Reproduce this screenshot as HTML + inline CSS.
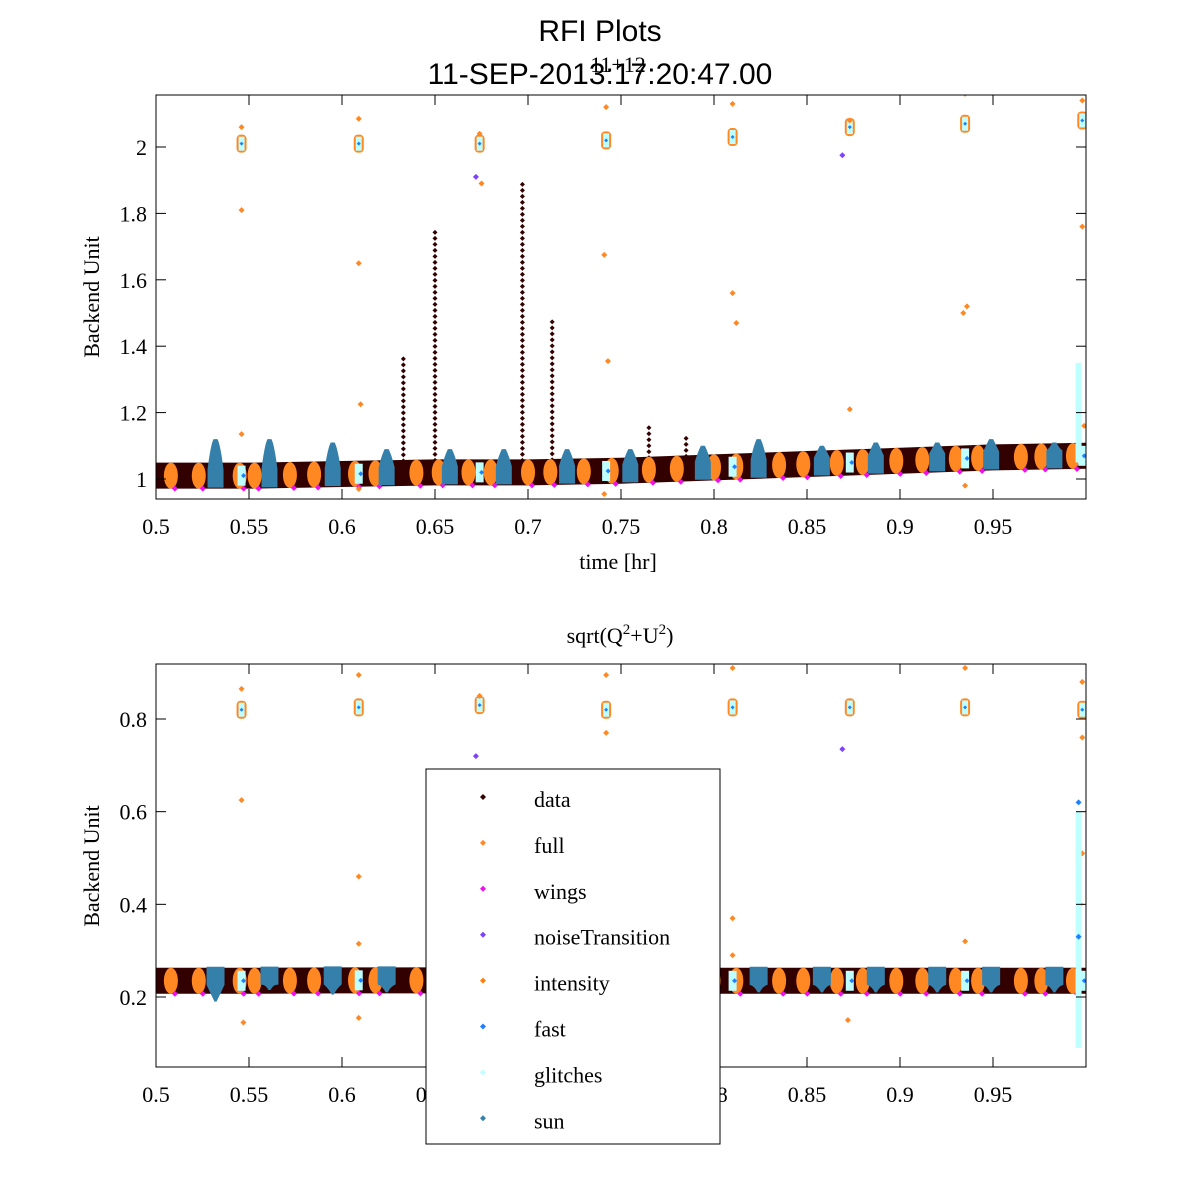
<!DOCTYPE html>
<html><head><meta charset="utf-8"><style>
body{margin:0;background:#fff}
svg{display:block}
.t{font-family:"Liberation Serif",serif;font-size:22px;fill:#000}
.s{font-family:"Liberation Sans",sans-serif;fill:#000}
</style></head><body>
<svg id="c" width="1200" height="1200" xmlns="http://www.w3.org/2000/svg">
<rect width="1200" height="1200" fill="#fff"/>
<text class="s" x="600" y="41" font-size="30" text-anchor="middle">RFI Plots</text>
<text class="s" x="600" y="84" font-size="30" text-anchor="middle">11-SEP-2013:17:20:47.00</text>
<text class="t" x="618" y="72" font-size="18" text-anchor="middle">11+12</text>
<text class="t" x="620" y="643" font-size="21" text-anchor="middle">sqrt(Q<tspan dy="-9" font-size="15">2</tspan><tspan dy="9">+U</tspan><tspan dy="-9" font-size="15">2</tspan><tspan dy="9">)</tspan></text>
<text class="t" x="618" y="569" text-anchor="middle">time [hr]</text>
<text class="t" transform="translate(99,297) rotate(-90)" text-anchor="middle">Backend Unit</text>
<text class="t" transform="translate(99,866) rotate(-90)" text-anchor="middle">Backend Unit</text>
<g id="p1"></g><g id="p2"></g><g id="ax"></g>
<g>
<rect x="426" y="769" width="294" height="375" fill="#fff" stroke="#000" stroke-width="1"/>
<g id="leg"></g>
</g>
</svg>
<script>
const NS="http://www.w3.org/2000/svg";
const xTicks=[0.5,0.55,0.6,0.65,0.7,0.75,0.8,0.85,0.9,0.95];
const yTicksTop=[1,1.2,1.4,1.6,1.8,2];
const yTicksBot=[0.2,0.4,0.6,0.8];
const bandTimes=[0.5,0.55,0.6,0.65,0.7,0.75,0.8,0.85,0.9,0.95,1.0];
const bandTop=[1.01,1.01,1.015,1.02,1.02,1.025,1.035,1.045,1.055,1.065,1.07];
const bandBot=[0.235,0.235,0.236,0.236,0.235,0.235,0.235,0.235,0.235,0.235,0.235];
const sunTimes=[0.532,0.561,0.595,0.624,0.658,0.687,0.721,0.755,0.794,0.824,0.858,0.887,0.92,0.949,0.983];
const sunPeakTop=[1.12,1.12,1.11,1.09,1.09,1.09,1.09,1.09,1.10,1.12,1.10,1.11,1.11,1.12,1.11];
const sunLowBot=[0.19,0.215,0.205,0.21,0.21,0.21,0.205,0.21,0.21,0.21,0.21,0.21,0.21,0.21,0.21];
const fullTimes=[0.508,0.523,0.545,0.553,0.572,0.585,0.607,0.618,0.640,0.652,0.668,0.680,0.700,0.712,0.730,0.745,0.765,0.780,0.800,0.812,0.835,0.848,0.866,0.880,0.898,0.912,0.930,0.942,0.965,0.976,0.993];
const spikeTimes=[0.633,0.65,0.697,0.713,0.765,0.785];
const spikePeaks=[1.37,1.755,1.905,1.49,1.17,1.13];
const glitchTimes=[0.546,0.609,0.674,0.742,0.81,0.873,0.935,0.998];
const glitchTop=[2.01,2.01,2.01,2.02,2.03,2.06,2.07,2.08];
const glitchBot=[0.82,0.825,0.83,0.82,0.825,0.825,0.825,0.82];
const outTopT=[0.546,0.546,0.546,0.609,0.609,0.61,0.609,0.674,0.675,0.742,0.741,0.743,0.741,0.81,0.81,0.812,0.873,0.873,0.935,0.936,0.934,0.935,0.998,0.998,0.999];
const outTopV=[2.06,1.81,1.135,2.085,1.65,1.225,0.97,2.04,1.89,2.12,1.675,1.355,0.955,2.13,1.56,1.47,2.08,1.21,2.16,1.52,1.5,0.98,2.14,1.76,1.16];
const outBotT=[0.546,0.546,0.547,0.609,0.609,0.609,0.609,0.674,0.742,0.742,0.81,0.81,0.81,0.872,0.935,0.935,0.998,0.998,0.998,0.997];
const outBotV=[0.865,0.625,0.145,0.895,0.46,0.315,0.155,0.85,0.895,0.77,0.91,0.37,0.29,0.15,0.91,0.32,0.88,0.76,0.51,0.4];
const purpleT=[0.672,0.869];
const purpleTop=[1.91,1.975];
const purpleBot=[0.72,0.735];
const legendNames=["data","full","wings","noiseTransition","intensity","fast","glitches","sun"];
const C={data:"#330000",full:"#ff8822",wings:"#ee11ee",noise:"#8040ff",fast:"#1f80ff",glitch:"#c0ffff",sun:"#3580aa"};
const legendColors=[C.data,C.full,C.wings,C.noise,"#ff7f0e",C.fast,C.glitch,C.sun];

const X=t=>156+(t-0.5)*1860;
const Y1=v=>479-(v-1)*332;
const Y2=v=>997-(v-0.2)*463.33;
function el(tag,a,p){const e=document.createElementNS(NS,tag);for(const k in a)e.setAttribute(k,a[k]);p.appendChild(e);return e;}
function interp(t,arr){for(let i=0;i<bandTimes.length-1;i++){if(t<=bandTimes[i+1]){const f=(t-bandTimes[i])/(bandTimes[i+1]-bandTimes[i]);return arr[i]+f*(arr[i+1]-arr[i]);}}return arr[arr.length-1];}
function dot(g,x,y,c,r){return el("path",{d:`M${x-r} ${y}L${x} ${y-r}L${x+r} ${y}L${x} ${y+r}Z`,fill:c},g);}

function panel(g,Y,arr,top){
  const clip=el("clipPath",{id:"cl"+(top?1:2)},g);
  el("rect",{x:156,y:top?95:664,width:930,height:404},clip);
  const h=el("g",{"clip-path":`url(#cl${top?1:2})`},g);
  // data band
  let up="",dn="";
  bandTimes.forEach((t,i)=>{up+=(i?"L":"M")+X(t)+" "+(Y(arr[i])-13);});
  for(let i=bandTimes.length-1;i>=0;i--)dn+="L"+X(bandTimes[i])+" "+(Y(arr[i])+13);
  const b=el("path",{d:up+dn+"Z",fill:C.data},h);
  
  
  // spikes
  if(top){spikeTimes.forEach((t,i)=>{const y0=Y(interp(t,arr)),y1=Y(spikePeaks[i]);
    for(let y=y0;y>=y1;y-=6)dot(h,X(t),y,C.data,2.5);});}
  // full
  fullTimes.forEach(t=>{const c=Y(interp(t,arr));
    const e=el("ellipse",{cx:X(t),cy:c,rx:7,ry:13,fill:C.full},h);
    
    
    dot(h,X(t)+4,c+13,C.wings,3);});
  // sun
  sunTimes.forEach((t,i)=>{const x=X(t),c=Y(interp(t,arr));let d;
    if(top){const p=Y(sunPeakTop[i]);d=`M${x-8} ${c+12}L${x-8} ${c-6}Q${x-5} ${p+6} ${x-2} ${p}L${x+2} ${p}Q${x+5} ${p+6} ${x+8} ${c-6}L${x+8} ${c+12}Z`;}
    else{const p=Y(sunLowBot[i]);d=`M${x-9} ${c-14}L${x+9} ${c-14}L${x+9} ${c+4}Q${x+4} ${p-6} ${x+1} ${p}L${x-1} ${p}Q${x-4} ${p-6} ${x-9} ${c+4}Z`;}
    const s=el("path",{d:d,fill:C.sun},h);
    
    });
  // glitch clusters
  const gv=top?glitchTop:glitchBot;
  glitchTimes.forEach((t,i)=>{const x=X(t),y=Y(gv[i]);
    el("rect",{x:x-5,y:y-9,width:10,height:18,rx:4,fill:C.full},h);
    el("rect",{x:x-3,y:y-7,width:6,height:14,fill:C.glitch},h);
    dot(h,x,y,C.fast,2);
    const yb=Y(interp(t,arr));
    el("rect",{x:x-4,y:yb-10,width:8,height:20,fill:C.glitch},h);
    dot(h,x+2,yb,C.fast,2.5);});
  // outliers
  const ot=top?outTopT:outBotT,ov=top?outTopV:outBotV;
  ot.forEach((t,i)=>dot(h,X(t),Y(ov[i]),C.full,3));
  purpleT.forEach((t,i)=>dot(h,X(t),Y(top?purpleTop[i]:purpleBot[i]),C.noise,3));
  // final glitch spread
  if(top){el("rect",{x:X(0.996)-3,y:Y(1.35),width:6,height:Y(1.05)-Y(1.35),fill:C.glitch},h);}
  else{el("rect",{x:X(0.996)-3,y:Y(0.6),width:6,height:Y(0.09)-Y(0.6),fill:C.glitch},h);
    dot(h,X(0.996),Y(0.62),C.fast,3);dot(h,X(0.996),Y(0.33),C.fast,3);}
}
panel(document.getElementById("p1"),Y1,bandTop,true);
panel(document.getElementById("p2"),Y2,bandBot,false);

const ax=document.getElementById("ax");
function axes(y0,y1,Y,ticks,lblMap){
  el("rect",{x:156,y:y0,width:930,height:y1-y0,fill:"none",stroke:"#000","stroke-width":1},ax);
  xTicks.forEach(t=>{const x=X(t);
    el("line",{x1:x,x2:x,y1:y1,y2:y1-10,stroke:"#000"},ax);
    el("line",{x1:x,x2:x,y1:y0,y2:y0+10,stroke:"#000"},ax);
    const tx=el("text",{x:x,y:y1+35,class:"t","text-anchor":"middle"},ax);tx.textContent=String(t);
    
    });
  ticks.forEach(v=>{const y=Y(v);
    el("line",{x1:156,x2:166,y1:y,y2:y,stroke:"#000"},ax);
    el("line",{x1:1086,x2:1076,y1:y,y2:y,stroke:"#000"},ax);
    const tx=el("text",{x:147,y:y+8,class:"t","text-anchor":"end"},ax);tx.textContent=String(v);
    
    });
}
axes(95,499,Y1,yTicksTop);
axes(664,1067,Y2,yTicksBot);

const leg=document.getElementById("leg");
legendNames.forEach((n,i)=>{const y=800+i*45.9;
  const g=el("g",{},leg);
  
  
  dot(g,483,y-3,legendColors[i],3);
  const t=el("text",{x:534,y:y+7,class:"t"},g);t.textContent=n;});
</script>
</body></html>
